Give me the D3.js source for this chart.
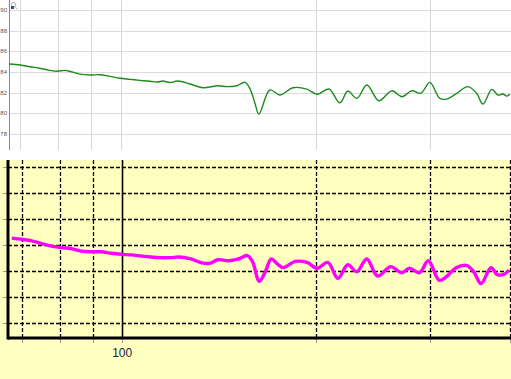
<!DOCTYPE html>
<html>
<head>
<meta charset="utf-8">
<script src="https://cdn.jsdelivr.net/npm/d3@7"></script>
<style>
  body { margin: 0; background: #fff; }
  svg { display: block; }
</style>
</head>
<body>
<script>
// grid / ticks
const gridFreqs = [70, 80, 90, 100, 200, 300, 400];
const dbTicks = [78, 80, 82, 84, 86, 88, 90];
const xTickLabels = [100];

// green trace (top panel)
const greenFreq = [67.2, 70, 72.4, 75, 77.7, 79.7, 82, 83.4, 86.4, 89.6, 92.8, 96.2, 99.7, 103.3, 107, 110.9, 114, 116.1, 119,
  122.4, 127.8, 133.8, 141.1, 145.7, 151, 155.4, 158.1, 161, 163.3, 169.8, 176, 184.3, 193.6, 200.7, 209.4, 217.8,
  224, 231.3, 239.7, 250.1, 262, 271.5, 281.2, 290.4, 299.8, 310.6, 318.4, 330, 343, 354, 362, 373.7, 381.8, 388.6, 394, 398.4];
const greenDb = [84.77, 84.68, 84.51, 84.36, 84.16, 84.07, 84.16, 84.07, 83.8, 83.71, 83.74, 83.58, 83.39, 83.29, 83.19, 83.1, 83.03, 83.13, 82.98,
  83.13, 82.84, 82.48, 82.67, 82.58, 82.67, 83.0, 82.42, 81.0, 79.93, 82.26, 81.77, 82.48, 82.35, 81.84, 82.35, 81.02,
  82.16, 81.45, 82.74, 81.22, 82.19, 81.61, 82.19, 81.94, 83.0, 81.45, 81.38, 81.94, 82.58, 81.94, 80.9, 82.32, 81.77, 81.87, 81.67, 81.87];

// magenta trace (bottom panel)
const magentaFreq = [67.4, 70, 72.4, 75, 77.7, 80.5, 83.4, 86.4, 89.6, 92.8, 96.2, 99.7, 103.3, 107, 110.9, 114, 119,
  122.4, 127.8, 133.4, 137.2, 140.6, 146.3, 151.6, 156.4, 159.3, 163.3, 166.8, 170.4, 174.1, 177.8, 185.6, 193.6, 200.7, 208.6, 216.2,
  224, 231.3, 239.7, 249.2, 261, 271.5, 279.3, 289.3, 298.7, 310.6, 318.4, 330, 343, 351.8, 360.7, 373.7, 381.8, 391.4, 398.4];
const magentaDb = [84.55, 84.45, 84.34, 84.13, 83.94, 83.82, 83.74, 83.55, 83.5, 83.5, 83.39, 83.31, 83.26, 83.18, 83.1, 83.05, 83.05,
  83.1, 82.95, 82.63, 82.63, 82.89, 82.81, 82.95, 83.21, 82.76, 81.23, 81.97, 82.95, 82.58, 82.28, 82.76, 82.68, 82.24, 82.68, 81.45,
  82.5, 81.97, 82.95, 81.63, 82.36, 81.89, 82.24, 81.89, 82.81, 81.31, 81.57, 82.28, 82.44, 81.92, 81.05, 82.28, 81.76, 81.76, 82.1];

const width = 511, height = 379;

const svg = d3.select("body").append("svg")
    .attr("width", width)
    .attr("height", height);

// ---------- top panel ----------
const xTop = d3.scaleLog().domain([67.2, 400]).range([9, 511]);
const yTop = d3.scaleLinear().domain([90, 78]).range([10, 134]);
const topBottom = 150;

const topG = svg.append("g");

topG.selectAll(".vgrid")
    .data(gridFreqs.filter(f => f < 400))
    .enter().append("line")
    .attr("x1", d => Math.round(xTop(d)) + 0.5)
    .attr("x2", d => Math.round(xTop(d)) + 0.5)
    .attr("y1", 0)
    .attr("y2", topBottom)
    .attr("stroke", "#d6d6d6")
    .attr("stroke-width", 1);

topG.selectAll(".hgrid")
    .data(dbTicks)
    .enter().append("line")
    .attr("x1", 9)
    .attr("x2", width)
    .attr("y1", d => Math.round(yTop(d)) + 0.5)
    .attr("y2", d => Math.round(yTop(d)) + 0.5)
    .attr("stroke", "#dcdcdc")
    .attr("stroke-width", 1);

topG.append("line")
    .attr("x1", 9.5).attr("x2", 9.5)
    .attr("y1", 0).attr("y2", topBottom)
    .attr("stroke", "#8a8a8a")
    .attr("stroke-width", 1);

topG.selectAll(".ylab")
    .data(dbTicks)
    .enter().append("text")
    .attr("x", 7)
    .attr("y", d => yTop(d) + 2)
    .attr("text-anchor", "end")
    .style("font-family", "Liberation Sans, Arial, sans-serif")
    .style("font-size", "6px")
    .style("fill", "#555")
    .text(d => d);

// small zoom icon
topG.append("circle").attr("cx", 13.5).attr("cy", 4.5).attr("r", 2.2)
    .attr("fill", "none").attr("stroke", "#999").attr("stroke-width", 0.8);
topG.append("rect").attr("x", 11).attr("y", 6).attr("width", 3).attr("height", 3).attr("fill", "#2a4fb0");
topG.append("line").attr("x1", 15).attr("y1", 6.5).attr("x2", 17).attr("y2", 9)
    .attr("stroke", "#888").attr("stroke-width", 0.8);

const greenLine = d3.line()
    .x((d, i) => xTop(greenFreq[i]))
    .y(d => yTop(d))
    .curve(d3.curveCatmullRom.alpha(0.5));

topG.append("path")
    .datum(greenDb)
    .attr("fill", "none")
    .attr("stroke", "#1a8c1a")
    .attr("stroke-width", 1.4)
    .attr("d", greenLine);

// ---------- bottom panel ----------
const panelTop = 160;
const xBot = d3.scaleLog().domain([66.5, 400]).range([8, 510]);
const yBot = d3.scaleLinear().domain([82, 84]).range([271.3, 245.3]);
const axisY = 338;

const bot = svg.append("g");

bot.append("rect")
    .attr("x", 0).attr("y", panelTop)
    .attr("width", width).attr("height", height - panelTop)
    .attr("fill", "#ffffc0");

bot.selectAll(".hgrid")
    .data(dbTicks)
    .enter().append("line")
    .attr("x1", 8)
    .attr("x2", width)
    .attr("y1", d => Math.round(yBot(d)) + 0.5)
    .attr("y2", d => Math.round(yBot(d)) + 0.5)
    .attr("stroke", "#000")
    .attr("stroke-width", 1.3)
    .attr("stroke-dasharray", "4,2");

bot.selectAll(".vgrid")
    .data(gridFreqs)
    .enter().append("line")
    .attr("x1", d => Math.round(xBot(d)) + 0.5)
    .attr("x2", d => Math.round(xBot(d)) + 0.5)
    .attr("y1", panelTop)
    .attr("y2", axisY)
    .attr("stroke", "#000")
    .attr("stroke-width", d => d === 100 ? 1.6 : 1.3)
    .attr("stroke-dasharray", d => d === 100 ? null : "4,2");

// grey ticks
bot.selectAll(".ytick")
    .data(dbTicks)
    .enter().append("line")
    .attr("x1", 3).attr("x2", 7)
    .attr("y1", d => Math.round(yBot(d)) + 0.5)
    .attr("y2", d => Math.round(yBot(d)) + 0.5)
    .attr("stroke", "#999");

bot.selectAll(".xtick")
    .data(gridFreqs)
    .enter().append("line")
    .attr("x1", d => Math.round(xBot(d)) + 0.5)
    .attr("x2", d => Math.round(xBot(d)) + 0.5)
    .attr("y1", axisY + 1).attr("y2", axisY + 5)
    .attr("stroke", "#999");

// axes
bot.append("line")
    .attr("x1", 8).attr("x2", 8)
    .attr("y1", panelTop).attr("y2", axisY + 1.5)
    .attr("stroke", "#000").attr("stroke-width", 3);
bot.append("line")
    .attr("x1", 8).attr("x2", width)
    .attr("y1", axisY).attr("y2", axisY)
    .attr("stroke", "#000").attr("stroke-width", 3);

bot.selectAll(".xlab")
    .data(xTickLabels)
    .enter().append("text")
    .attr("x", d => xBot(d))
    .attr("y", 357)
    .attr("text-anchor", "middle")
    .style("font-family", "Liberation Sans, Arial, sans-serif")
    .style("font-size", "12px")
    .style("fill", "#202040")
    .text(d => d);

const magentaLine = d3.line()
    .x((d, i) => xBot(magentaFreq[i]))
    .y(d => yBot(d))
    .curve(d3.curveCatmullRom.alpha(0.5));

bot.append("path")
    .datum(magentaDb)
    .attr("fill", "none")
    .attr("stroke", "#f0f")
    .attr("stroke-width", 3.4)
    .attr("d", magentaLine);
</script>
</body>
</html>
